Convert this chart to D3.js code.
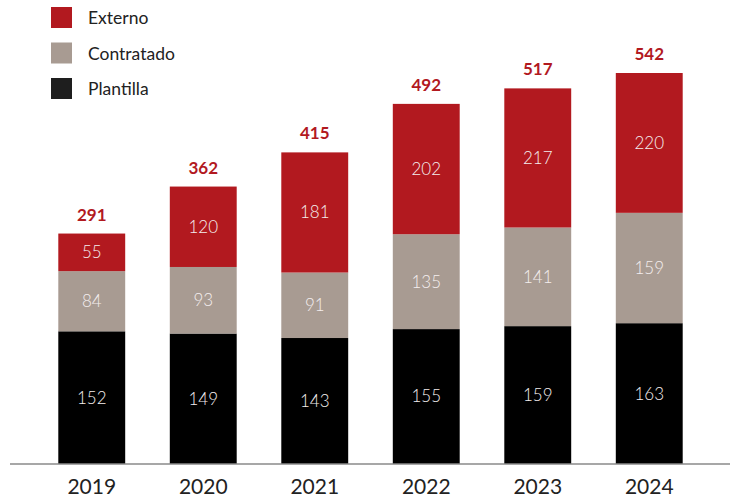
<!DOCTYPE html>
<html>
<head>
<meta charset="utf-8">
<script src="https://cdn.jsdelivr.net/npm/d3@7"></script>
<style>
  body { margin: 0; background: #fff; }
  text { font-family: "Lato", "Open Sans", sans-serif; }
</style>
</head>
<body>
<div id="chart"></div>
<script>
// datos por año
const years = ["2019", "2020", "2021", "2022", "2023", "2024"];
const plantilla = [152, 149, 143, 155, 159, 163];
const contratado = [84, 93, 91, 135, 141, 159];
const externo = [55, 120, 181, 202, 217, 220];
const totals = [291, 362, 415, 492, 517, 542];
const seriesNames = ["Plantilla", "Contratado", "Externo"];

const colors = { Plantilla: "#000000", Contratado: "#a89b92", Externo: "#b2191f" };
const legendColors = { Plantilla: "#1e1e1e", Contratado: "#a89b92", Externo: "#b2191f" };

const width = 730, height = 501;
const baseY = 464;

const svg = d3.select("#chart").append("svg")
    .attr("width", width)
    .attr("height", height);

const rows = years.map((y, i) => ({
    year: y, Plantilla: plantilla[i], Contratado: contratado[i], Externo: externo[i], total: totals[i]
}));

const x = d3.scaleBand()
    .domain(years)
    .range([36, 705])
    .paddingInner(0.4)
    .paddingOuter(0.2);

// the original is not drawn to a strict linear scale
const y = d3.scalePow()
    .exponent(0.85)
    .domain([0, d3.max(totals)])
    .range([baseY, 73]);

const stack = d3.stack().keys(seriesNames);
const layers = stack(rows);

const g = svg.selectAll("g.layer")
    .data(layers)
    .join("g")
    .attr("class", "layer")
    .attr("fill", d => colors[d.key]);

g.selectAll("rect")
    .data(d => d)
    .join("rect")
    .attr("x", d => x(d.data.year))
    .attr("width", x.bandwidth())
    .attr("y", d => y(d[1]))
    .attr("height", d => y(d[0]) - y(d[1]));

// segment values
g.selectAll("text")
    .data(d => d)
    .join("text")
    .attr("x", d => x(d.data.year) + x.bandwidth() / 2)
    .attr("y", d => (y(d[0]) + y(d[1])) / 2)
    .attr("dy", "0.35em")
    .attr("text-anchor", "middle")
    .attr("fill", "#f4eeee")
    .attr("font-size", 17)
    .attr("font-weight", 300)
    .text(d => d[1] - d[0]);

// totals
svg.selectAll("text.total")
    .data(rows)
    .join("text")
    .attr("class", "total")
    .attr("x", d => x(d.year) + x.bandwidth() / 2)
    .attr("y", d => y(d.total) - 13)
    .attr("text-anchor", "middle")
    .attr("fill", "#b2191f")
    .attr("font-size", 17)
    .attr("font-weight", 700)
    .text(d => d.total);

// axis
const xAxis = svg.append("g")
    .attr("transform", `translate(0,${baseY})`)
    .call(d3.axisBottom(x).tickSize(0).tickPadding(15));
xAxis.select(".domain").remove();
xAxis.append("line")
    .attr("x1", 10).attr("x2", 730)
    .attr("stroke", "#8a8a8a").attr("stroke-width", 1.5);
xAxis.selectAll(".tick text")
    .attr("font-family", "Lato, sans-serif")
    .attr("font-size", 21)
    .attr("fill", "#222");

// legend
const legend = svg.append("g").attr("transform", "translate(51,7)");
const legendItems = legend.selectAll("g")
    .data(seriesNames.slice().reverse())
    .join("g")
    .attr("transform", (d, i) => `translate(0,${i * 35.5})`);
legendItems.append("rect")
    .attr("width", 21).attr("height", 21)
    .attr("fill", d => legendColors[d]);
legendItems.append("text")
    .attr("x", 37).attr("y", 11)
    .attr("dy", "0.35em")
    .attr("font-size", 17.5)
    .attr("fill", "#222")
    .text(d => d);
</script>
</body>
</html>
